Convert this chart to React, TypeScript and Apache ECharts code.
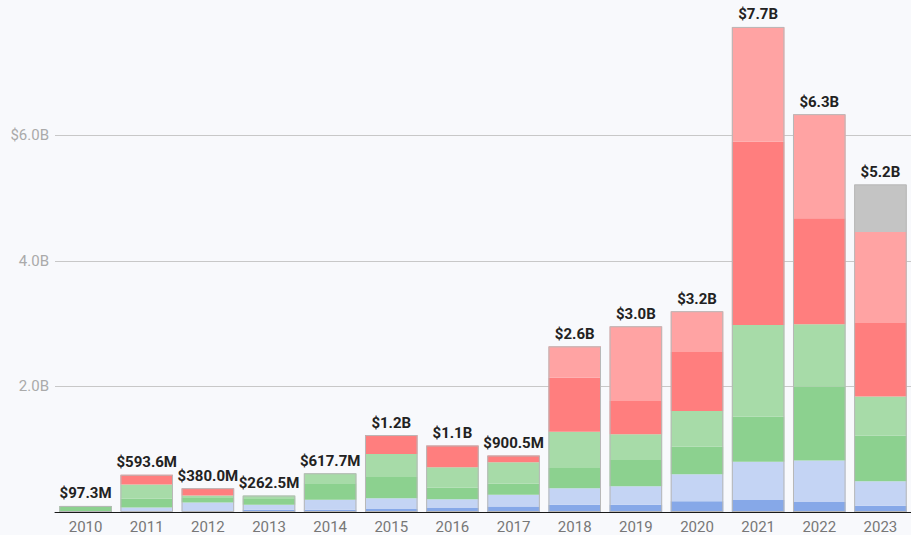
import React, { useEffect, useRef } from "react";
import * as echarts from "echarts";

const years = ["2010","2011","2012","2013","2014","2015","2016","2017","2018","2019","2020","2021","2022","2023"];
// values in billions of dollars, bottom to top
const darkBlue = [0, 0, 0, 0.035, 0.035, 0.046, 0.062, 0.088, 0.115, 0.115, 0.17, 0.19, 0.16, 0.1];
const lightBlue = [0, 0.072, 0.152, 0.08, 0.16, 0.175, 0.143, 0.186, 0.265, 0.295, 0.43, 0.61, 0.66, 0.39];
const green = [0.0973, 0.14, 0.07, 0.105, 0.265, 0.335, 0.185, 0.175, 0.32, 0.42, 0.44, 0.72, 1.18, 0.73];
const lightGreen = [0, 0.2246, 0.04, 0.0425, 0.1577, 0.37, 0.325, 0.3455, 0.58, 0.41, 0.57, 1.46, 0.99, 0.62];
const red = [0, 0.157, 0.118, 0, 0, 0.3, 0.345, 0.106, 0.86, 0.53, 0.94, 2.92, 1.69, 1.17];
const pink = [0, 0, 0, 0, 0, 0, 0, 0, 0.5, 1.19, 0.65, 1.83, 1.66, 1.45];
const gray = [0, 0, 0, 0, 0, 0, 0, 0, 0, 0, 0, 0, 0, 0.76];

const segments = [
  { name: "a", data: darkBlue, color: "#86a8e8" },
  { name: "b", data: lightBlue, color: "#c4d4f4" },
  { name: "c", data: green, color: "#8cd18f" },
  { name: "d", data: lightGreen, color: "#a7dba8" },
  { name: "e", data: red, color: "#ff7e7e" },
  { name: "f", data: pink, color: "#ffa3a3" },
  { name: "g", data: gray, color: "#c4c4c4" },
];

const totals = years.map((_, i) =>
  Math.round(segments.reduce((s, seg) => s + seg.data[i], 0) * 10000) / 10000
);

function fmtTotal(v: number): string {
  if (v < 1) return "$" + (v * 1000).toFixed(1) + "M";
  return "$" + v.toFixed(1) + "B";
}

export default function App() {
  const ref = useRef<HTMLDivElement>(null);
  useEffect(() => {
    document.body.style.margin = "0";
    document.body.style.overflow = "hidden";
    const chart = echarts.init(ref.current!, null, { renderer: "svg" });
    const font = "Roboto, 'Noto Sans', sans-serif";
    const series: any[] = segments.map((seg) => ({
      type: "bar",
      name: seg.name,
      stack: "total",
      data: seg.data,
      barCategoryGap: "14%",
      barGap: "-100%",
      itemStyle: { color: seg.color },
      emphasis: { disabled: true },
      silent: true,
    }));
    series.push({
      type: "bar",
      name: "total",
      data: totals,
      barCategoryGap: "14%",
      barGap: "-100%",
      z: 5,
      itemStyle: { color: "rgba(0,0,0,0)", borderColor: "#b8b8b8", borderWidth: 1 },
      label: {
        show: true,
        position: "top",
        distance: 5,
        formatter: (p: any) => fmtTotal(p.value),
        fontFamily: font,
        fontWeight: "bold",
        fontSize: 15,
        color: "#222",
      },
      emphasis: { disabled: true },
      silent: true,
    });
    chart.setOption({
      animation: false,
      backgroundColor: "#f8f9fc",
      grid: { left: 55, right: -6, top: 10.6, bottom: 23, containLabel: false },
      xAxis: {
        type: "category",
        data: years,
        axisLine: { show: true, lineStyle: { color: "#1a1a1a", width: 1 } },
        axisTick: { show: false },
        axisLabel: { color: "#777", fontSize: 15, fontFamily: font, margin: 7 },
      },
      yAxis: {
        type: "value",
        min: 0,
        max: 7.99,
        interval: 2,
        axisLine: { show: false },
        axisTick: { show: false },
        splitLine: { show: true, showMinLine: false, showMaxLine: false, lineStyle: { color: "#c8c8c8", width: 1 } },
        axisLabel: {
          showMinLabel: false,
          showMaxLabel: false,
          color: "#aaa",
          fontSize: 15,
          fontFamily: font,
          margin: 6,
          formatter: (v: number) => (v === 6 ? "$6.0B" : v.toFixed(1) + "B"),
        },
      },
      series,
    });
    return () => chart.dispose();
  }, []);
  return (
    <div
      ref={ref}
      style={{ position: "fixed", left: 0, top: 0, width: 911, height: 535 }}
    />
  );
}
